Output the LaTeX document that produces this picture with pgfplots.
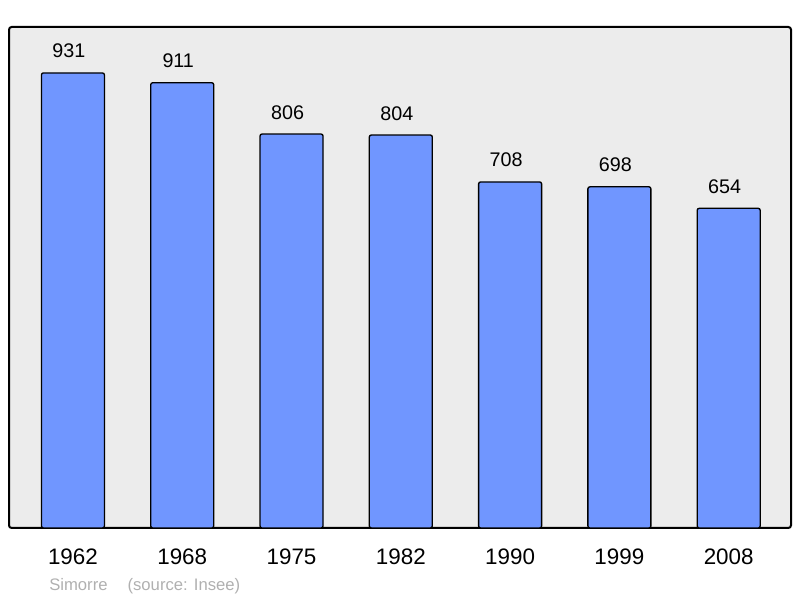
\documentclass[border=0pt]{standalone}
\usepackage{pgfplots}
\pgfplotsset{compat=1.18}
\usepackage{fontspec}
\setmainfont{Liberation Sans}
\definecolor{barblue}{HTML}{7096FF}
\definecolor{bggrey}{HTML}{ECECEC}
\definecolor{srcgrey}{HTML}{B0B0B0}
\begin{document}
\begin{tikzpicture}
\begin{axis}[
  scale only axis,
  width=586.5pt, height=375.75pt,
  xmin=-0.585, xmax=6.57,
  ymin=0, ymax=1025,
  /pgf/number format/assume math mode=true,
  axis background/.style={fill=bggrey},
  axis line style={line width=1.5pt, rounded corners=2pt},
  ybar, bar width=47.25pt,
  bar shift=0pt,
  xtick={0,1,2,3,4,5,6},
  xticklabels={1962,1968,1975,1982,1990,1999,2008},
  ytick=\empty,
  major tick length=0pt,
  x tick label style={anchor=base, yshift=-27.75pt, font=\fontsize{16.8pt}{18pt}\selectfont},
  nodes near coords,
  every node near coord/.append style={anchor=base, xshift=-3pt, yshift=11.25pt, font=\fontsize{14.8pt}{16pt}\selectfont, black},
  clip=false,
]
\addplot[fill=barblue, draw=black, line width=1pt, rounded corners=1.5pt] coordinates {
  (0,931) (1,911) (2,806) (3,804) (4,708) (5,698) (6,654)
};
\node[anchor=base west, text=srcgrey, font=\fontsize{12.5pt}{14pt}\selectfont, inner sep=0pt]
  at ([xshift=30pt, yshift=-47.25pt]rel axis cs:0,0) {Simorre\hspace{15pt}(source: Insee)};
\path ([xshift=-6.75pt, yshift=-52.5pt]rel axis cs:0,0) coordinate (bl);
\path ([xshift=593.25pt, yshift=396pt]rel axis cs:0,0) coordinate (tr);
\end{axis}
\useasboundingbox (bl) rectangle (tr);
\end{tikzpicture}
\end{document}
